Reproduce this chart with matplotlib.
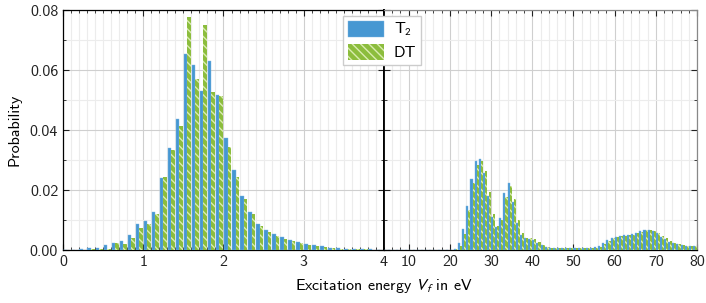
import matplotlib
matplotlib.use("Agg")
import matplotlib.pyplot as plt
import numpy as np
from matplotlib.ticker import MultipleLocator, FormatStrFormatter

# ---------------- data ----------------
# low-energy part: bins of 0.1 eV from 0 to 4 eV
low_edges = np.round(np.arange(0.0, 4.0, 0.1), 2)
low_t2 = [0.0001, 0.0001, 0.0003, 0.0006, 0.0007, 0.0018, 0.0023, 0.0030, 0.0049, 0.0087,
          0.0096, 0.0127, 0.0240, 0.0339, 0.0437, 0.0653, 0.0616, 0.0530, 0.0629, 0.0517,
          0.0372, 0.0266, 0.0181, 0.0126, 0.0088, 0.0067, 0.0052, 0.0042, 0.0033, 0.0027,
          0.0020, 0.0016, 0.0012, 0.0008, 0.0006, 0.0004, 0.0003, 0.0002, 0.0002, 0.0001]
low_dt = [0.0000, 0.0001, 0.0001, 0.0003, 0.0004, 0.0005, 0.0023, 0.0021, 0.0040, 0.0072,
          0.0087, 0.0121, 0.0243, 0.0333, 0.0412, 0.0778, 0.0569, 0.0750, 0.0526, 0.0512,
          0.0343, 0.0242, 0.0170, 0.0121, 0.0080, 0.0060, 0.0047, 0.0038, 0.0031, 0.0023,
          0.0017, 0.0012, 0.0010, 0.0007, 0.0005, 0.0004, 0.0003, 0.0002, 0.0001, 0.0001]

# high-energy part: bins of 1 eV from 4 to 80 eV
high_edges = np.arange(4, 80, 1)
high_t2 = ([0.0] * 17 +                                   # 4..20
           [0.0005, 0.0022, 0.0070, 0.0148, 0.0236, 0.0297, 0.0303, 0.0256, 0.0181,  # 21..29
            0.0109, 0.0076, 0.0108, 0.0189, 0.0222, 0.0161, 0.0091, 0.0050, 0.0039, 0.0038,  # 30..39
            0.0034, 0.0025, 0.0016, 0.0009, 0.0007, 0.0007, 0.0007, 0.0007, 0.0007, 0.0007,  # 40..49
            0.0007, 0.0007, 0.0007, 0.0007, 0.0007, 0.0009, 0.0013, 0.0024, 0.0034, 0.0041,  # 50..59
            0.0045, 0.0048, 0.0049, 0.0049, 0.0052, 0.0058, 0.0063, 0.0067, 0.0066, 0.0062,  # 60..69
            0.0056, 0.0045, 0.0036, 0.0028, 0.0022, 0.0019, 0.0017, 0.0014, 0.0013, 0.0013])  # 70..79
high_dt = ([0.0] * 17 +
           [0.0003, 0.0015, 0.0055, 0.0132, 0.0222, 0.0282, 0.0296, 0.0265, 0.0195,
            0.0120, 0.0080, 0.0100, 0.0176, 0.0212, 0.0170, 0.0100, 0.0056, 0.0040, 0.0039,
            0.0036, 0.0027, 0.0018, 0.0010, 0.0008, 0.0007, 0.0007, 0.0008, 0.0007, 0.0007,
            0.0008, 0.0007, 0.0007, 0.0008, 0.0007, 0.0008, 0.0011, 0.0020, 0.0031, 0.0039,
            0.0044, 0.0047, 0.0048, 0.0049, 0.0051, 0.0056, 0.0061, 0.0066, 0.0067, 0.0064,
            0.0058, 0.0048, 0.0039, 0.0030, 0.0024, 0.0020, 0.0017, 0.0015, 0.0013, 0.0013])

low_ticks = [0, 1, 2, 3, 4]
high_ticks = [10, 20, 30, 40, 50, 60, 70, 80]
labels = ["T$_2$", "DT"]

# ---------------- style ----------------
plt.rcParams["font.family"] = ["cmss10", "DejaVu Sans"]
plt.rcParams["mathtext.fontset"] = "stixsans"
plt.rcParams["axes.unicode_minus"] = False
plt.rcParams["hatch.linewidth"] = 1.0

blue = "#4697d2"
green = "#8cbd3d"
hatch_col = "#d9ecb0"
fs = 11.5

fig = plt.figure(figsize=(7.06, 3.03), dpi=100)
axL = fig.add_axes([63 / 706, 1 - 250 / 303, (384 - 63) / 706, 240 / 303])
axR = fig.add_axes([384 / 706, 1 - 250 / 303, (697 - 384) / 706, 240 / 303], sharey=axL)


def draw(ax, edges, width, t2, dt, frac, gap):
    edges = np.asarray(edges, dtype=float)
    bw = width * frac
    off = width * gap
    b1 = ax.bar(edges + off, t2, width=bw, align="edge", color=blue,
                edgecolor="#7db6e2", linewidth=0.3, zorder=3)
    b2 = ax.bar(edges + off + bw, dt, width=bw, align="edge", facecolor=green,
                edgecolor=hatch_col, linewidth=0, hatch="\\\\\\\\", zorder=3)
    return b1, b2


hL = draw(axL, low_edges, 0.1, low_t2, low_dt, 0.45, 0.05)
draw(axR, high_edges, 1.0, high_t2, high_dt, 0.5, 0.0)

axL.set_xlim(0, 4)
axR.set_xlim(4, 80)
axL.set_ylim(0, 0.08)

axL.xaxis.set_major_locator(plt.FixedLocator(low_ticks))
axL.xaxis.set_minor_locator(MultipleLocator(0.1))
axR.xaxis.set_major_locator(plt.FixedLocator(high_ticks))
axR.xaxis.set_minor_locator(MultipleLocator(2))
axL.yaxis.set_major_locator(MultipleLocator(0.02))
axL.yaxis.set_minor_locator(MultipleLocator(0.01))
axL.yaxis.set_major_formatter(FormatStrFormatter("%.2f"))

for ax in (axL, axR):
    ax.set_axisbelow(True)
    ax.grid(which="major", color="#cfcfcf", linewidth=0.8, zorder=0)
    ax.grid(which="minor", color="#ececec", linewidth=0.8, zorder=0)
    ax.tick_params(which="both", direction="in", top=True, right=True,
                   labelsize=fs, colors="#222222")
    ax.tick_params(which="major", length=4, width=0.8)
    ax.tick_params(which="minor", length=2.5, width=0.6)
    for s in ax.spines.values():
        s.set_linewidth(0.9)

axR.tick_params(labelleft=False)
for s in ("top", "right"):
    axR.spines[s].set_color("#888888")
axL.spines["right"].set_linewidth(1.3)
axR.spines["left"].set_linewidth(1.3)

axL.set_ylabel("Probability", fontsize=fs, labelpad=6)
fig.text(384 / 706, 1 - 286 / 303, "Excitation energy $V_f$ in eV",
         ha="center", va="center", fontsize=fs)

fig.legend(hL, labels, loc="upper center", bbox_to_anchor=(382 / 706, 1 - 13 / 303),
           fontsize=11.5, handlelength=2.3, handleheight=1.15, framealpha=1,
           edgecolor="#cccccc", fancybox=False, borderpad=0.3, labelspacing=0.35,
           handletextpad=0.6, borderaxespad=0.2)

fig.savefig("out.png", dpi=100)
